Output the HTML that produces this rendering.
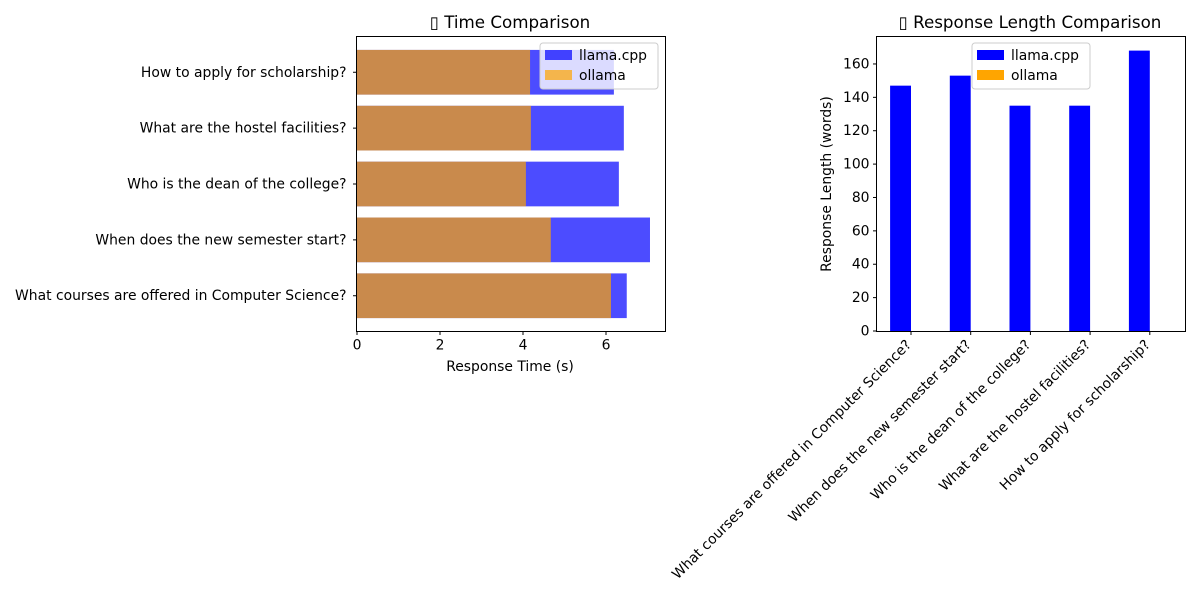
<!DOCTYPE html>
<html><head><meta charset="utf-8"><style>
body{margin:0;background:#fff;width:1200px;height:600px;overflow:hidden}
svg{font-family:"DejaVu Sans","Liberation Sans",sans-serif}
</style></head><body>
<svg id="c" width="1200" height="600"></svg>
<script>
const questions=["What courses are offered in Computer Science?","When does the new semester start?","Who is the dean of the college?","What are the hostel facilities?","How to apply for scholarship?"];
const llamaTime=[6.5,7.06,6.31,6.43,6.19];
const ollamaTime=[6.12,4.67,4.07,4.19,4.17];
const llamaLen=[147,153,135,135,168];
const ollamaLen=[0,0,0,0,0];
const timeTicks=[0,2,4,6];
const lenTicks=[0,20,40,60,80,100,120,140,160];
const NS="http://www.w3.org/2000/svg";
const svg=document.getElementById('c');
const FS=13.9;
function mk(t,a,p){const e=document.createElementNS(NS,t);for(const k in a)e.setAttribute(k,a[k]);(p||svg).appendChild(e);return e;}
// left chart
const L={x0:356.5,x1:665.5,y0:36.5,y1:331.5};
const xs=v=>357+v*41.5;
const ys=i=>L.y0+(4.64-i)*(L.y1-L.y0)/5.28;
const bh=0.8*(L.y1-L.y0)/5.28;
const gL=mk('g',{});
questions.forEach((q,i)=>{
 const r=mk('rect',{x:xs(0),y:ys(i)-bh/2,width:xs(llamaTime[i])-xs(0),height:bh,fill:'#0000ff','fill-opacity':0.7},gL);
 
 const o=mk('rect',{x:xs(0),y:ys(i)-bh/2,width:xs(ollamaTime[i])-xs(0),height:bh,fill:'#ffa500','fill-opacity':0.7},gL);
 
 mk('line',{x1:L.x0,x2:L.x0-3.5,y1:ys(i),y2:ys(i),stroke:'#000'},gL);
 const t=mk('text',{x:L.x0-10,y:ys(i)+4.5,'text-anchor':'end','font-size':FS},gL);t.textContent=q;
 
});
timeTicks.forEach(v=>{mk('line',{x1:xs(v),x2:xs(v),y1:L.y1,y2:L.y1+3.5,stroke:'#000'},gL);
 const t=mk('text',{x:xs(v),y:L.y1+18,'text-anchor':'middle','font-size':FS},gL);t.textContent=v;
 });
mk('rect',{x:L.x0,y:L.y0,width:L.x1-L.x0,height:L.y1-L.y0,fill:'none',stroke:'#000'},gL);
let t=mk('text',{x:510,y:371,'text-anchor':'middle','font-size':FS},gL);t.textContent='Response Time (s)';

t=mk('text',{x:510,y:28,'text-anchor':'middle','font-size':16.7},gL);t.textContent='\u25AF Time Comparison';

function legend(x,y,alpha,name){
 const g=mk('g',{});
 mk('rect',{x:x,y:y,width:118,height:46,rx:3,fill:'#fff','fill-opacity':0.8,stroke:'#ccc'},g);
 [['#0000ff','llama.cpp'],['#ffa500','ollama']].forEach((s,k)=>{
  mk('rect',{x:x+5,y:y+7+k*20,width:27,height:10,fill:s[0],'fill-opacity':alpha},g);
  const tt=mk('text',{x:x+39,y:y+17+k*20,'font-size':FS},g);tt.textContent=s[1];
  });
}
legend(540,43,0.7,'legend-time');
// right chart
const R={x0:876.5,x1:1185.5,y0:36.5,y1:331.5};
const bx=i=>911+i*59.7;
const yv=v=>331+(-v)*1.669;
const w=0.35*59.7;
const gR=mk('g',{});
questions.forEach((q,i)=>{
 const r=mk('rect',{x:bx(i)-w,y:yv(llamaLen[i]),width:w,height:yv(0)-yv(llamaLen[i]),fill:'#0000ff'},gR);
 
 const o=mk('rect',{x:bx(i),y:yv(ollamaLen[i]),width:w,height:yv(0)-yv(ollamaLen[i]),fill:'#ffa500'},gR);
 
 mk('line',{x1:bx(i),x2:bx(i),y1:R.y1,y2:R.y1+3.5,stroke:'#000'},gR);
 const tt=mk('text',{x:0,y:0,'text-anchor':'end','font-size':FS,transform:`translate(${bx(i)+1},${R.y1+14}) rotate(-45)`},gR);tt.textContent=q;
 
});
lenTicks.forEach(v=>{mk('line',{x1:R.x0,x2:R.x0-3.5,y1:yv(v),y2:yv(v),stroke:'#000'},gR);
 const tt=mk('text',{x:R.x0-7,y:yv(v)+4.5,'text-anchor':'end','font-size':FS},gR);tt.textContent=v;
 });
mk('rect',{x:R.x0,y:R.y0,width:R.x1-R.x0,height:R.y1-R.y0,fill:'none',stroke:'#000'},gR);
t=mk('text',{x:0,y:0,'text-anchor':'middle','font-size':FS,transform:'translate(831,184) rotate(-90)'},gR);t.textContent='Response Length (words)';

t=mk('text',{x:1030,y:28,'text-anchor':'middle','font-size':16.7},gR);t.textContent='\u25AF Response Length Comparison';

legend(972,43,1,'legend-length');
</script>
</body></html>
